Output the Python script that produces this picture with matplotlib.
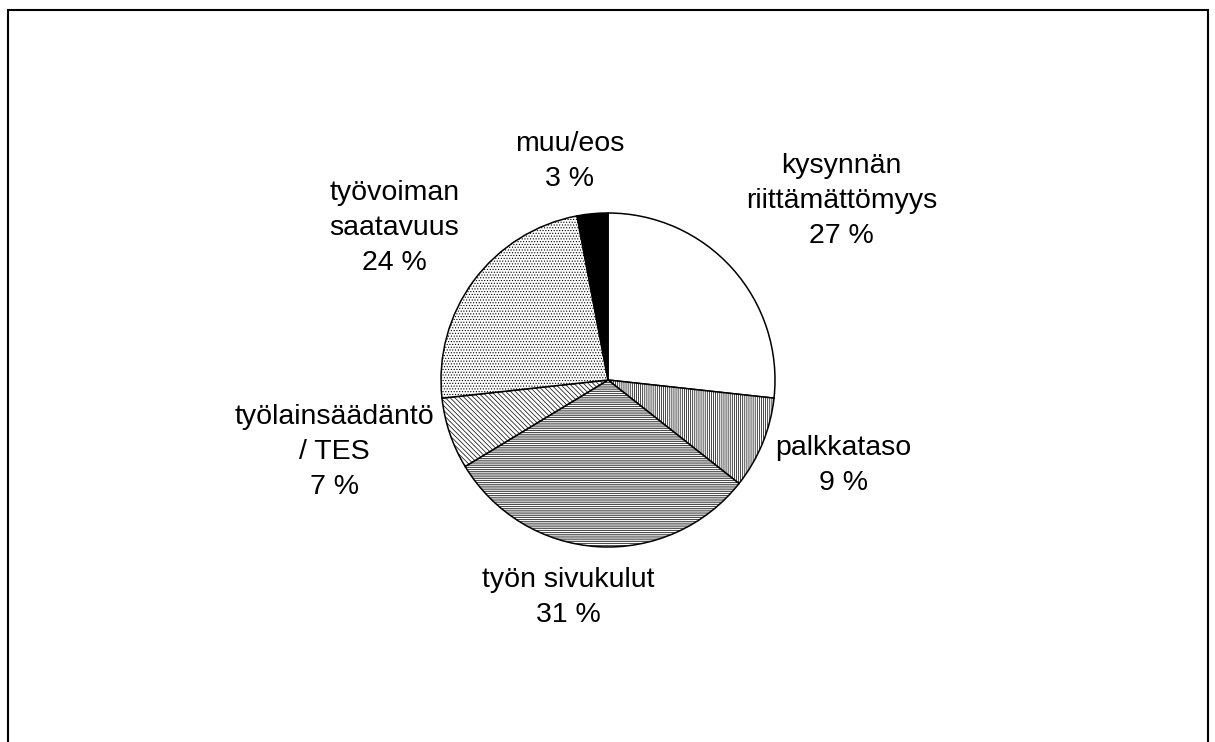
import numpy as np
import matplotlib
matplotlib.use("Agg")
import matplotlib.pyplot as plt
from matplotlib.patches import Rectangle

plt.rcParams['font.family'] = ['Liberation Sans', 'DejaVu Sans']
plt.rcParams['hatch.linewidth'] = 0.5

# data
categories = ['kysynnän\nriittämättömyys', 'palkkataso', 'työn sivukulut',
              'työlainsäädäntö\n/ TES', 'työvoiman\nsaatavuus', 'muu/eos']
values = [27, 9, 31, 7, 24, 3]

# styles
fills = ['white', 'white', 'white', 'white', 'white', 'black']
hatches = [None, '||||||||', '---------', '\\\\\\\\\\\\\\', '......', None]
# label centres, in units of the pie radius
label_pos = [(1.40, 1.07), (1.41, -0.51), (-0.24, -1.30),
             (-1.64, -0.43), (-1.28, 0.91), (-0.23, 1.31)]

W, H = 1215, 742
R = 167.0          # pie radius in px
cx, cy = 608, 380  # pie centre in px (from top-left)

fig = plt.figure(figsize=(W / 100, H / 100), dpi=100)
ax = fig.add_axes([0, 0, 1, 1])

wedges, _ = ax.pie(values, startangle=90, counterclock=False, radius=1,
                   colors=fills,
                   wedgeprops=dict(edgecolor='black', linewidth=1.1))
for w, h in zip(wedges, hatches):
    if h:
        w.set_hatch(h)

for cat, v, (lx, ly) in zip(categories, values, label_pos):
    ax.text(lx, ly, f'{cat}\n{v} %', ha='center', va='center',
            fontsize=20.5, linespacing=1.45)

ax.set_xlim(-cx / R, (W - cx) / R)
ax.set_ylim(-(H - cy) / R, cy / R)
ax.set_aspect('equal')
ax.axis('off')

# frame around the chart area
fig.patches.append(Rectangle((8 / W, -0.05), 1200 / W, 1.05 - 10 / H,
                             transform=fig.transFigure, fill=False,
                             edgecolor='black', linewidth=1.5))

fig.savefig('out.png', dpi=100)
